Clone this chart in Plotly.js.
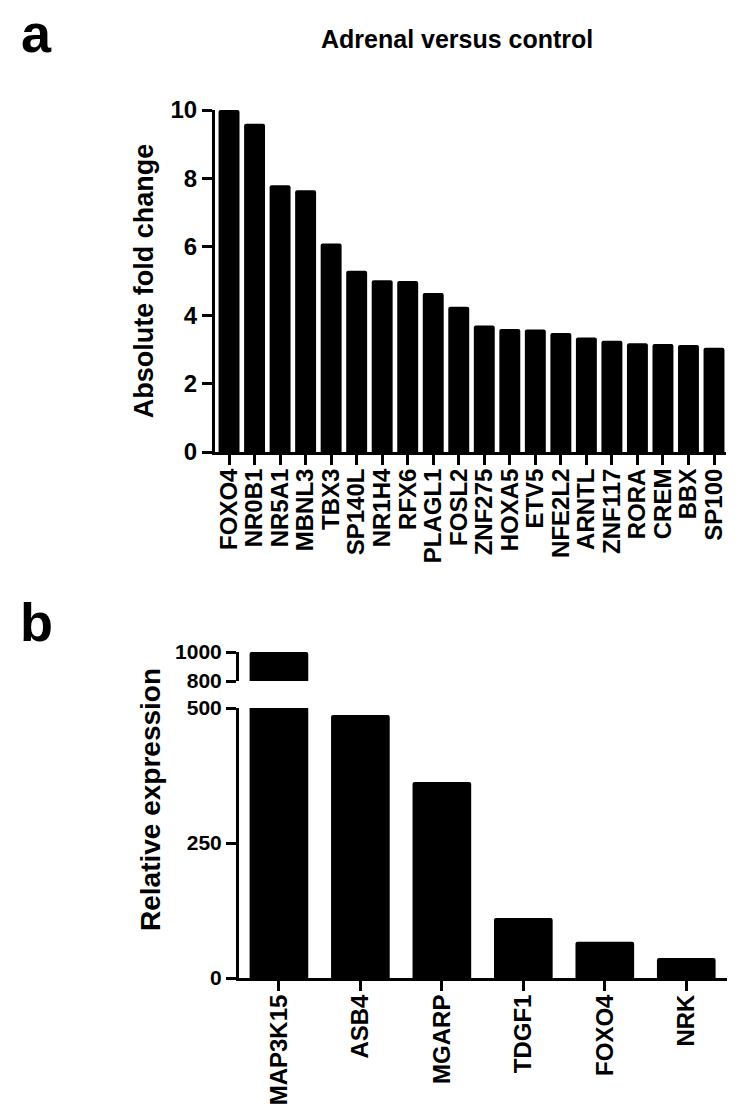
<!DOCTYPE html>
<html>
<head>
<meta charset="utf-8">
<script src="https://cdn.plot.ly/plotly-3.0.1.min.js"></script>
<style>
  html, body { margin: 0; padding: 0; background: #ffffff; }
  #chart { width: 745px; height: 1117px; }
</style>
</head>
<body>
<div id="chart"></div>
<script>
// Panel a: Adrenal versus control
const genesA = ['FOXO4','NR0B1','NR5A1','MBNL3','TBX3','SP140L','NR1H4','RFX6','PLAGL1','FOSL2',
                'ZNF275','HOXA5','ETV5','NFE2L2','ARNTL','ZNF117','RORA','CREM','BBX','SP100'];
const foldChangeA = [10.0, 9.6, 7.8, 7.65, 6.1, 5.3, 5.02, 5.0, 4.65, 4.25,
                     3.7, 3.6, 3.58, 3.48, 3.35, 3.25, 3.18, 3.16, 3.13, 3.05];
const yTicksA = [0, 2, 4, 6, 8, 10];

// Panel b: relative expression (broken y axis)
const genesB = ['MAP3K15','ASB4','MGARP','TDGF1','FOXO4','NRK'];
const relExprB = [1000, 487, 363, 111, 67, 37];
const yTicksBLower = [0, 250, 500];
const yTicksBUpper = [800, 1000];

const W = 745, H = 1117;
const px = v => v / W;
const py = v => 1 - v / H;

const FONT = 'Liberation Sans, Arial, Helvetica, sans-serif';
const tickFont = {family: FONT, size: 24, color: '#000', weight: 700};
const tickFontB = {family: FONT, size: 21, color: '#000', weight: 700};

const axisStyle = {
  showline: true, linewidth: 3, linecolor: '#000',
  ticks: 'outside', ticklen: 10, tickwidth: 3, tickcolor: '#000',
  showgrid: false, zeroline: false, fixedrange: true,
  tickfont: tickFont
};

const barMarker = {color: '#000', line: {width: 0}, cornerradius: 2};

const traces = [
  {type: 'bar', x: genesA, y: foldChangeA, xaxis: 'x', yaxis: 'y',
   marker: barMarker, width: 0.82, hoverinfo: 'x+y'},
  {type: 'bar', x: genesB, y: relExprB, xaxis: 'x2', yaxis: 'y2',
   marker: barMarker, width: 0.72, hoverinfo: 'x+y'},
  {type: 'bar', x: genesB, y: relExprB, xaxis: 'x2', yaxis: 'y3',
   marker: barMarker, width: 0.72, hoverinfo: 'x+y'}
];

const layout = {
  width: W, height: H,
  margin: {l: 0, r: 0, t: 0, b: 0},
  paper_bgcolor: '#fff', plot_bgcolor: '#fff',
  showlegend: false,
  barmode: 'overlay',
  font: {family: FONT, color: '#000'},
  xaxis: Object.assign({}, axisStyle, {
    domain: [px(215), px(726)], anchor: 'y',
    type: 'category', range: [-0.55, 19.47], tickangle: -90,
    tickmode: 'array', tickvals: genesA, ticktext: genesA, ticklabelstandoff: -6
  }),
  yaxis: Object.assign({}, axisStyle, {
    domain: [py(452), py(110)], anchor: 'x',
    range: [0, 10], tickvals: yTicksA, ticktext: yTicksA.map(String),
    title: {text: 'Absolute fold change', font: {family: FONT, size: 27, weight: 700, color: '#000'}, standoff: 10}
  }),
  xaxis2: Object.assign({}, axisStyle, {
    domain: [px(239), px(727)], anchor: 'y2',
    type: 'category', range: [-0.49, 5.5], tickangle: -90,
    tickmode: 'array', tickvals: genesB, ticktext: genesB, ticklabelstandoff: -6
  }),
  yaxis2: Object.assign({}, axisStyle, {
    domain: [py(978), py(708)], anchor: 'x2', tickfont: tickFontB,
    range: [0, 500], tickvals: yTicksBLower, ticktext: yTicksBLower.map(String)
  }),
  yaxis3: Object.assign({}, axisStyle, {
    domain: [py(681), py(652)], anchor: 'x2', tickfont: tickFontB,
    range: [800, 1000], tickvals: yTicksBUpper, ticktext: yTicksBUpper.map(String)
  }),
  annotations: [
    {text: 'a', xref: 'paper', yref: 'paper', x: px(36), y: py(33), showarrow: false,
     xanchor: 'center', yanchor: 'middle', font: {family: FONT, size: 54, weight: 700, color: '#000'}},
    {text: 'b', xref: 'paper', yref: 'paper', x: px(36), y: py(622), showarrow: false,
     xanchor: 'center', yanchor: 'middle', font: {family: FONT, size: 54, weight: 700, color: '#000'}},
    {text: 'Adrenal versus control', xref: 'paper', yref: 'paper', x: px(457), y: py(39), showarrow: false,
     xanchor: 'center', yanchor: 'middle', font: {family: FONT, size: 25, weight: 700, color: '#000'}},
    {text: 'Relative expression', xref: 'paper', yref: 'paper', x: px(150), y: py(800), showarrow: false,
     textangle: -90, xanchor: 'center', yanchor: 'middle', font: {family: FONT, size: 28, weight: 700, color: '#000'}}
  ]
};

Plotly.newPlot('chart', traces, layout, {displayModeBar: false, staticPlot: true});
</script>
</body>
</html>
